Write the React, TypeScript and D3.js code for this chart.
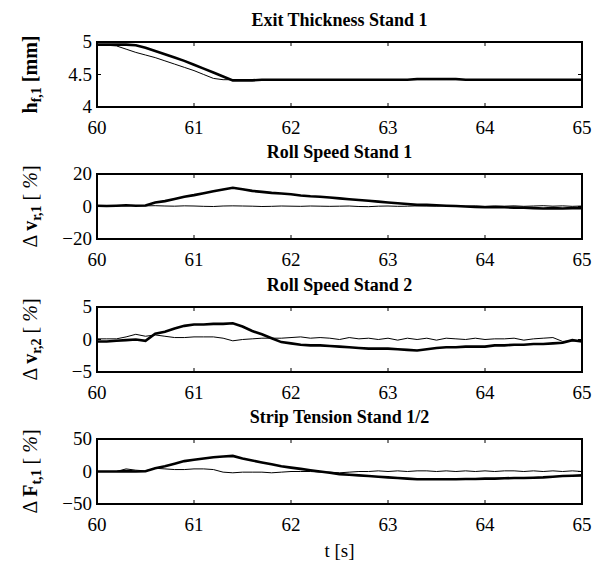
import React from 'react';
import * as d3 from 'd3';

// time grid, 0.1 s
const time = d3.range(0, 51).map(i => 60 + i / 10);
const xTicks = [60, 61, 62, 63, 64, 65];

// Exit thickness stand 1 [mm]
const hfMeasured = [
  4.96, 4.96, 4.96, 4.96, 4.95, 4.91, 4.86, 4.81, 4.76, 4.71,
  4.65, 4.59, 4.53, 4.47, 4.41, 4.41, 4.41, 4.42, 4.42, 4.42,
  4.42, 4.42, 4.42, 4.42, 4.42, 4.42, 4.42, 4.42, 4.42, 4.42,
  4.42, 4.42, 4.42, 4.43, 4.43, 4.43, 4.43, 4.43, 4.42, 4.42,
  4.42, 4.42, 4.42, 4.42, 4.42, 4.42, 4.42, 4.42, 4.42, 4.42,
  4.42,
];
const hfReference = [
  4.95, 4.95, 4.94, 4.89, 4.84, 4.80, 4.76, 4.71, 4.66, 4.61,
  4.56, 4.50, 4.44, 4.42, 4.42, 4.42, 4.42, 4.42, 4.42, 4.42,
  4.42, 4.42, 4.42, 4.42, 4.42, 4.42, 4.42, 4.42, 4.42, 4.42,
  4.42, 4.42, 4.42, 4.42, 4.42, 4.42, 4.42, 4.42, 4.42, 4.42,
  4.42, 4.42, 4.42, 4.42, 4.42, 4.42, 4.42, 4.42, 4.42, 4.42,
  4.42,
];

// Roll speed stand 1 [%]
const vr1Measured = [
  0.5, 0.3, 0.5, 0.8, 0.5, 0.6, 2.5, 3.3, 4.6, 6.0,
  7.0, 8.2, 9.4, 10.5, 11.5, 10.6, 9.6, 9.0, 8.4, 8.0,
  7.5, 6.8, 6.3, 6.0, 5.5, 5.0, 4.5, 4.0, 3.5, 3.0,
  2.5, 2.0, 1.5, 1.0, 1.0, 0.8, 0.5, 0.3, 0.0, -0.3,
  -0.5, -0.3, -0.5, -0.7, -0.8, -1.0, -1.2, -1.0, -1.2, -1.0,
  -1.0,
];
const vr1Reference = [
  0.3, 0.4, 0.3, 0.5, 0.6, 0.4, 0.5, 0.3, 0.2, 0.4,
  0.3, 0.1, 0.0, 0.3, 0.4, 0.3, 0.2, 0.0, 0.1, 0.3,
  0.2, 0.1, 0.3, 0.2, 0.1, 0.2, 0.3, 0.0, -0.1, 0.2,
  0.3, 0.1, 0.2, 0.4, 0.3, 0.2, 0.5, 0.3, 0.2, 0.4,
  0.1, 0.3, 0.2, 0.4, 0.1, 0.3, 0.5, 0.2, 0.4, 0.1,
  0.3,
];

// Roll speed stand 2 [%]
const vr2Measured = [
  -0.3, -0.3, -0.2, -0.1, 0.0, -0.2, 0.9, 1.2, 1.7, 2.1,
  2.3, 2.3, 2.4, 2.4, 2.5, 2.0, 1.3, 0.8, 0.2, -0.4,
  -0.6, -0.8, -0.9, -0.9, -1.0, -1.1, -1.2, -1.3, -1.4, -1.4,
  -1.4, -1.5, -1.6, -1.7, -1.5, -1.3, -1.2, -1.2, -1.1, -1.1,
  -1.1, -0.9, -0.9, -0.8, -0.8, -0.7, -0.7, -0.6, -0.5, -0.1,
  -0.3,
];
const vr2Reference = [
  0.1, 0.1, 0.1, 0.4, 0.8, 0.5, 0.7, 0.5, 0.3, 0.3,
  0.4, 0.4, 0.4, 0.2, -0.2, 0.0, 0.1, 0.2, 0.2, 0.2,
  0.3, 0.4, 0.2, 0.3, 0.2, 0.0, 0.3, 0.1, 0.2, 0.0,
  0.2, -0.1, 0.2, 0.0, 0.2, -0.1, 0.2, 0.1, 0.0, 0.2,
  0.0, 0.1, 0.1, 0.2, -0.1, 0.1, 0.2, 0.3, -0.3, -0.2,
  -0.2,
];

// Strip tension stand 1/2 [%]
const ft1Measured = [
  0, 0, 0, 0.5, 0, 0.5, 5, 8, 12, 16,
  18, 20, 22, 23, 24, 20, 17, 14, 11, 8,
  6, 4, 2, 0, -2, -4, -5, -6, -7, -8,
  -9, -10, -11, -12, -12, -12, -12, -12, -11.5, -11.5,
  -11, -11, -10.5, -10, -10, -9.5, -9, -8, -7, -6.5,
  -6,
];
const ft1Reference = [
  0, 0, 0, 4, 2, 1, 5, 4, 3, 3,
  4, 4, 3, -1, -2, -1, -1, -1, -2, -1,
  0, 0, 0, -1, -1, -2, -1, 0, 0, 1,
  0, 1, 0, 1, 1, 0, 1, 0, 1, 0,
  1, 0, 1, 1, 0, 1, 0, 1, 0, 1,
  0,
];

const titles = ['Exit Thickness Stand 1', 'Roll Speed Stand 1', 'Roll Speed Stand 2', 'Strip Tension Stand 1/2'];
const yDomains = [[4, 5], [-20, 20], [-5, 5], [-50, 50]];
const yTickLabels = [['4', '4.5', '5'], ['\u221220', '0', '20'], ['\u22125', '0', '5'], ['\u221250', '0', '50']];

const width = 605;
const height = 566;
const left = 97;
const right = 582;
const panelTops = [42, 174, 307, 439];
const panelH = 65;
const serif = '"Liberation Serif", "Times New Roman", Times, serif';

function YLabel({ i, cy }: { i: number; cy: number }) {
  const sub = { fontSize: 14, baselineShift: '-30%' } as any;
  let content;
  if (i === 0) {
    content = (
      <>
        <tspan fontWeight="bold">h</tspan>
        <tspan fontWeight="bold" style={sub}>f,1</tspan>
        <tspan fontWeight="bold"> [mm]</tspan>
      </>
    );
  } else {
    const v = i === 3 ? 'F' : 'v';
    const s = i === 1 ? 'r,1' : i === 2 ? 'r,2' : 't,1';
    content = (
      <>
        <tspan>{'\u0394 '}</tspan>
        <tspan fontWeight="bold">{v}</tspan>
        <tspan fontWeight="bold" style={sub}>{s}</tspan>
        <tspan>{' [ '}</tspan>
        <tspan fontStyle="italic">%</tspan>
        <tspan>]</tspan>
      </>
    );
  }
  return (
    <text transform={`translate(37,${cy}) rotate(-90)`} textAnchor="middle" fontSize={20} fontFamily={serif}>
      {content}
    </text>
  );
}

export default function App() {
  const x = d3.scaleLinear().domain([60, 65]).range([left, right]);
  const series = [
    [hfMeasured, hfReference],
    [vr1Measured, vr1Reference],
    [vr2Measured, vr2Reference],
    [ft1Measured, ft1Reference],
  ];

  return (
    <svg width={width} height={height} style={{ position: 'absolute', left: 0, top: 0, background: '#fff' }}>
      {series.map((pair, i) => {
        const top = panelTops[i];
        const y = d3.scaleLinear().domain(yDomains[i]).range([top + panelH, top]);
        const yTicks = [yDomains[i][0], (yDomains[i][0] + yDomains[i][1]) / 2, yDomains[i][1]];
        const line = d3.line<number>().x((_, k) => x(time[k])).y(d => y(d));
        return (
          <g key={i} fontFamily={serif}>
            <text x={(left + right) / 2} y={top - 16} textAnchor="middle" fontSize={18} fontWeight="bold">
              {titles[i]}
            </text>
            <clipPath id={`clip${i}`}>
              <rect x={left} y={top} width={right - left} height={panelH} />
            </clipPath>
            <g clipPath={`url(#clip${i})`}>
              <path d={line(pair[1]) || ''} fill="none" stroke="#000" strokeWidth={1} />
              <path d={line(pair[0]) || ''} fill="none" stroke="#000" strokeWidth={2.6} />
            </g>
            {xTicks.map(t => (
              <g key={t}>
                <line x1={x(t)} x2={x(t)} y1={top + panelH} y2={top + panelH - 4} stroke="#000" />
                <line x1={x(t)} x2={x(t)} y1={top} y2={top + 4} stroke="#000" />
                <text x={x(t)} y={top + panelH + 27} textAnchor="middle" fontSize={19}>{t}</text>
              </g>
            ))}
            {yTicks.map((v, k) => (
              <g key={k}>
                <line x1={left} x2={left + 4} y1={y(v)} y2={y(v)} stroke="#000" />
                <line x1={right} x2={right - 4} y1={y(v)} y2={y(v)} stroke="#000" />
                <text x={left - 5} y={y(v) + 6} textAnchor="end" fontSize={19}>{yTickLabels[i][k]}</text>
              </g>
            ))}
            <rect x={left} y={top} width={right - left} height={panelH} fill="none" stroke="#000" strokeWidth={2} />
            <YLabel i={i} cy={top + panelH / 2} />
          </g>
        );
      })}
      <text x={(left + right) / 2} y={557} textAnchor="middle" fontSize={19} fontFamily={serif}>t [s]</text>
    </svg>
  );
}
